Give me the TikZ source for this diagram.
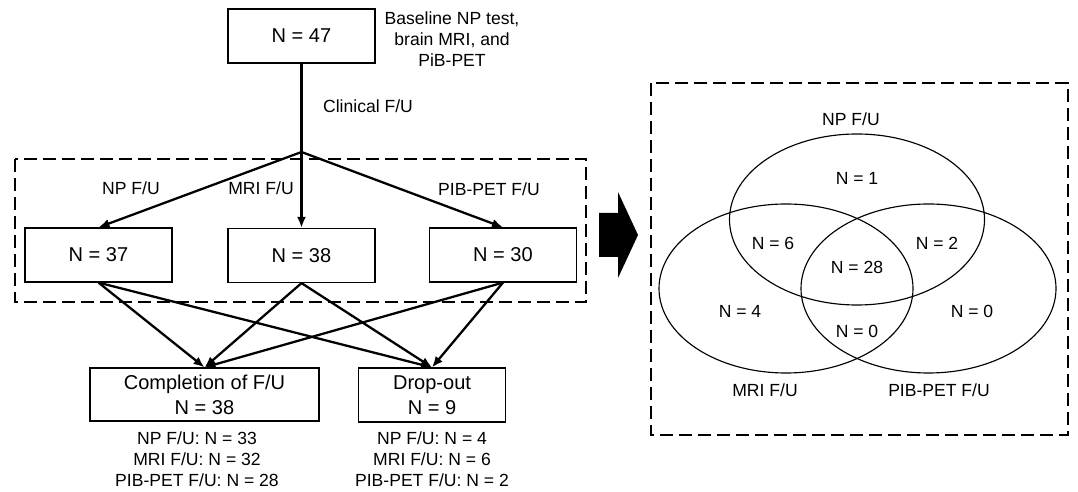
\documentclass[tikz,border=0pt]{standalone}
\usepackage{fontspec}
\setmainfont{Liberation Sans}
\usepackage{tikz}
\usetikzlibrary{arrows.meta}

\tikzset{
	box/.style={draw, line width=0.7pt, minimum width=2.94cm, minimum height=1.08cm, inner sep=0pt, align=center, font=\fontsize{11.4}{14.2}\selectfont},
	lbl/.style={inner sep=0pt, align=center, font=\fontsize{10}{12}\selectfont},
	flow/.style={line width=1.3pt, -{Latex[length=2.2mm,width=1.8mm]}},
	frame/.style={line width=1.3pt, dash pattern=on 0.26cm off 0.12cm},
	venn/.style={line width=0.65pt}
}

\begin{document}
\begin{tikzpicture}[x=0.02cm, y=-0.02cm]
	\useasboundingbox (0,0) rectangle (1078,492);
	\node (base) at (301.5,36) [box] {N = 47};
	\node (basetxt) at (452,39) [lbl] {Baseline NP test,\\brain MRI, and\\PiB-PET};
	\coordinate (split) at (301.5,152);
	\draw [line width=1.3pt] (base.south) -- (split);
	\node (clin) at (368,106) [lbl] {Clinical F/U};
	\node (np) at (98.5,255) [box] {N = 37};
	\node (mri) at (301.5,255.5) [box] {N = 38};
	\node (pet) at (503,255) [box] {N = 30};
	\draw [flow] (split) -- (np.north);
	\draw [flow] (split) -- (mri.north);
	\draw [flow] (split) -- (pet.north);
	\node (nplbl) at (131,188) [lbl] {NP F/U};
	\node (mrilbl) at (261,188) [lbl] {MRI F/U};
	\node (petlbl) at (489,189) [lbl] {PIB-PET F/U};
	\draw [frame] (15,159) rectangle (586,302);
	\node (done) at (204.5,394.5) [box, minimum width=4.58cm, minimum height=1.06cm] {Completion of F/U\\N = 38};
	\node (drop) at (432,395) [box] {Drop-out\\N = 9};
	\foreach \s in {np,mri,pet} {
		\draw [flow] (\s.south) -- (done.north);
		\draw [flow] (\s.south) -- (drop.north);
	}
	\node (donetxt) at (197,459) [lbl] {NP F/U: N = 33\\MRI F/U: N = 32\\PIB-PET F/U: N = 28};
	\node (droptxt) at (432,459) [lbl] {NP F/U: N = 4\\MRI F/U: N = 6\\PIB-PET F/U: N = 2};
	\fill (599,213) -- (618,213) -- (618,192) -- (638,235) -- (618,278) -- (618,257) -- (599,257) -- cycle;
	\draw [frame] (651,83) rectangle (1068,435);
	\draw [venn] (857,219.5) ellipse [x radius=127.5, y radius=85.5];
	\draw [venn] (786,288.5) ellipse [x radius=127, y radius=84.5];
	\draw [venn] (928.5,288.5) ellipse [x radius=127.5, y radius=84.5];
	\node (vnp) at (851,119) [lbl] {NP F/U};
	\node (vmri) at (765,390) [lbl] {MRI F/U};
	\node (vpet) at (939,390) [lbl] {PIB-PET F/U};
	\node (n1) at (857,178) [lbl] {N = 1};
	\node (n6) at (773,243) [lbl] {N = 6};
	\node (n2) at (937,243) [lbl] {N = 2};
	\node (n28) at (857,267) [lbl] {N = 28};
	\node (n4) at (740,311) [lbl] {N = 4};
	\node (n0a) at (857,331) [lbl] {N = 0};
	\node (n0b) at (972,311) [lbl] {N = 0};
\end{tikzpicture}
\end{document}
